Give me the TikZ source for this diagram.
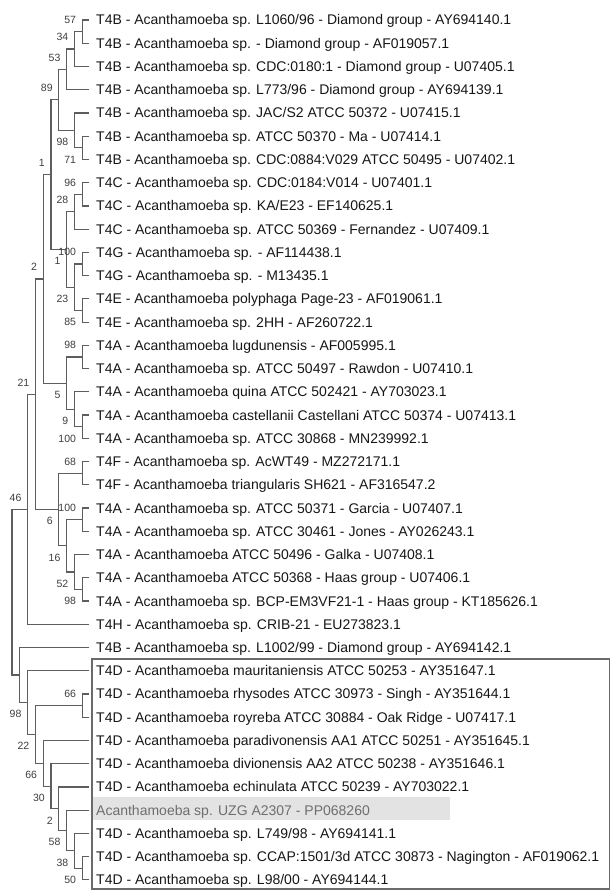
\documentclass[tikz,border=0pt]{standalone}
\usepackage{fontspec}
\setmainfont{Liberation Sans}
\usepackage{tikz}

\begin{document}
\begin{tikzpicture}[x=1pt, y=-1pt,
  ramo/.style={draw=lineGray, line width=1.2pt},
  foglia/.style={anchor=west, inner xsep=7pt, inner ysep=0pt, text height=12pt, text depth=2pt,
    font=\fontsize{14}{16}\selectfont, text=colText},
  bsup/.style={anchor=south east, inner sep=0pt, xshift=-6pt, yshift=7.8pt,
    font=\fontsize{10.5}{12}\selectfont, text=colBoot},
  bsdown/.style={anchor=north east, inner sep=0pt, xshift=-6pt, yshift=-7.8pt,
    font=\fontsize{10.5}{12}\selectfont, text=colBoot}]

% Colori
\definecolor{lineGray}{HTML}{5E5E5E}
\definecolor{colText}{HTML}{161616}
\definecolor{colBoot}{HTML}{3E3E3E}
\definecolor{colUZG}{HTML}{6E6E6E}
\definecolor{colHi}{HTML}{E3E3E3}
\definecolor{colBox}{HTML}{6A6A6A}

\useasboundingbox (0,0) rectangle (611,891);

% Evidenziazione campione
\fill[colHi] (93,797) rectangle (450,820);

% Nodi interni (x = livello, y = media dei figli)
\coordinate (n57) at (82.2,31.62);
\coordinate (n34) at (74.4,49.05);
\coordinate (n53) at (66.6,69.39);
\coordinate (n71) at (82.2,147.82);
\coordinate (n98a) at (74.4,130.39);
\coordinate (n89) at (58.8,99.89);
\coordinate (n96) at (82.2,194.30);
\coordinate (n28) at (74.4,211.73);
\coordinate (n100a) at (82.2,264.02);
\coordinate (n85) at (82.2,310.50);
\coordinate (n23) at (74.4,287.26);
\coordinate (n1b) at (66.6,249.50);
\coordinate (n1a) at (51.0,174.70);
\coordinate (n98b) at (82.2,356.98);
\coordinate (n100b) at (82.2,426.70);
\coordinate (n9) at (74.4,409.27);
\coordinate (n5) at (66.6,383.13);
\coordinate (n2a) at (43.2,278.92);
\coordinate (n68) at (82.2,473.18);
\coordinate (n100c) at (82.2,519.66);
\coordinate (n98c) at (82.2,589.38);
\coordinate (n52) at (74.4,571.95);
\coordinate (n16) at (66.6,545.81);
\coordinate (n6) at (58.8,509.50);
\coordinate (n21) at (35.4,394.21);
\coordinate (n46) at (27.6,509.23);
\coordinate (n66a) at (82.2,705.58);
\coordinate (n50) at (82.2,868.26);
\coordinate (n38) at (74.4,850.83);
\coordinate (n58) at (66.6,830.50);
\coordinate (n2b) at (58.8,808.71);
\coordinate (n30) at (51.0,786.20);
\coordinate (n66b) at (43.2,763.32);
\coordinate (n22) at (35.4,734.45);
\coordinate (n98d) at (27.6,702.59);
\coordinate (nX) at (19.8,675.04);
\coordinate (root) at (12.0,592.14);

% Foglie
\node[foglia] (f1) at (89,20.00) {T4B - Acanthamoeba sp. L1060/96 - Diamond group - AY694140.1};
\node[foglia] (f2) at (89,43.24) {T4B - Acanthamoeba sp. - Diamond group - AF019057.1};
\node[foglia] (f3) at (89,66.48) {T4B - Acanthamoeba sp. CDC:0180:1 - Diamond group - U07405.1};
\node[foglia] (f4) at (89,89.72) {T4B - Acanthamoeba sp. L773/96 - Diamond group - AY694139.1};
\node[foglia] (f5) at (89,112.96) {T4B - Acanthamoeba sp. JAC/S2 ATCC 50372 - U07415.1};
\node[foglia] (f6) at (89,136.20) {T4B - Acanthamoeba sp. ATCC 50370 - Ma - U07414.1};
\node[foglia] (f7) at (89,159.44) {T4B - Acanthamoeba sp. CDC:0884:V029 ATCC 50495 - U07402.1};
\node[foglia] (f8) at (89,182.68) {T4C - Acanthamoeba sp. CDC:0184:V014 - U07401.1};
\node[foglia] (f9) at (89,205.92) {T4C - Acanthamoeba sp. KA/E23 - EF140625.1};
\node[foglia] (f10) at (89,229.16) {T4C - Acanthamoeba sp. ATCC 50369 - Fernandez - U07409.1};
\node[foglia] (f11) at (89,252.40) {T4G - Acanthamoeba sp. - AF114438.1};
\node[foglia] (f12) at (89,275.64) {T4G - Acanthamoeba sp. - M13435.1};
\node[foglia] (f13) at (89,298.88) {T4E - Acanthamoeba polyphaga Page-23 - AF019061.1};
\node[foglia] (f14) at (89,322.12) {T4E - Acanthamoeba sp. 2HH - AF260722.1};
\node[foglia] (f15) at (89,345.36) {T4A - Acanthamoeba lugdunensis - AF005995.1};
\node[foglia] (f16) at (89,368.60) {T4A - Acanthamoeba sp. ATCC 50497 - Rawdon - U07410.1};
\node[foglia] (f17) at (89,391.84) {T4A - Acanthamoeba quina ATCC 502421 - AY703023.1};
\node[foglia] (f18) at (89,415.08) {T4A - Acanthamoeba castellanii Castellani ATCC 50374 - U07413.1};
\node[foglia] (f19) at (89,438.32) {T4A - Acanthamoeba sp. ATCC 30868 - MN239992.1};
\node[foglia] (f20) at (89,461.56) {T4F - Acanthamoeba sp. AcWT49 - MZ272171.1};
\node[foglia] (f21) at (89,484.80) {T4F - Acanthamoeba triangularis SH621 - AF316547.2};
\node[foglia] (f22) at (89,508.04) {T4A - Acanthamoeba sp. ATCC 50371 - Garcia - U07407.1};
\node[foglia] (f23) at (89,531.28) {T4A - Acanthamoeba sp. ATCC 30461 - Jones - AY026243.1};
\node[foglia] (f24) at (89,554.52) {T4A - Acanthamoeba ATCC 50496 - Galka - U07408.1};
\node[foglia] (f25) at (89,577.76) {T4A - Acanthamoeba ATCC 50368 - Haas group - U07406.1};
\node[foglia] (f26) at (89,601.00) {T4A - Acanthamoeba sp. BCP-EM3VF21-1 - Haas group - KT185626.1};
\node[foglia] (f27) at (89,624.24) {T4H - Acanthamoeba sp. CRIB-21 - EU273823.1};
\node[foglia] (f28) at (89,647.48) {T4B - Acanthamoeba sp. L1002/99 - Diamond group - AY694142.1};
\node[foglia] (f29) at (89,670.72) {T4D - Acanthamoeba mauritaniensis ATCC 50253 - AY351647.1};
\node[foglia] (f30) at (89,693.96) {T4D - Acanthamoeba rhysodes ATCC 30973 - Singh - AY351644.1};
\node[foglia] (f31) at (89,717.20) {T4D - Acanthamoeba royreba ATCC 30884 - Oak Ridge - U07417.1};
\node[foglia] (f32) at (89,740.44) {T4D - Acanthamoeba paradivonensis AA1 ATCC 50251 - AY351645.1};
\node[foglia] (f33) at (89,763.68) {T4D - Acanthamoeba divionensis AA2 ATCC 50238 - AY351646.1};
\node[foglia] (f34) at (89,786.92) {T4D - Acanthamoeba echinulata ATCC 50239 - AY703022.1};
\node[foglia, text=colUZG] (f35) at (89,810.16) {Acanthamoeba sp. UZG A2307 - PP068260};
\node[foglia] (f36) at (89,833.40) {T4D - Acanthamoeba sp. L749/98 - AY694141.1};
\node[foglia] (f37) at (89,856.64) {T4D - Acanthamoeba sp. CCAP:1501/3d ATCC 30873 - Nagington - AF019062.1};
\node[foglia] (f38) at (89,879.88) {T4D - Acanthamoeba sp. L98/00 - AY694144.1};

% Rami
\draw[ramo] (n57) |- (f1) (n57) |- (f2);
\draw[ramo] (n34) |- (n57) (n34) |- (f3);
\draw[ramo] (n53) |- (n34) (n53) |- (f4);
\draw[ramo] (n71) |- (f6) (n71) |- (f7);
\draw[ramo] (n98a) |- (f5) (n98a) |- (n71);
\draw[ramo] (n89) |- (n53) (n89) |- (n98a);
\draw[ramo] (n96) |- (f8) (n96) |- (f9);
\draw[ramo] (n28) |- (n96) (n28) |- (f10);
\draw[ramo] (n100a) |- (f11) (n100a) |- (f12);
\draw[ramo] (n85) |- (f13) (n85) |- (f14);
\draw[ramo] (n23) |- (n100a) (n23) |- (n85);
\draw[ramo] (n1b) |- (n28) (n1b) |- (n23);
\draw[ramo] (n1a) |- (n89) (n1a) |- (n1b);
\draw[ramo] (n98b) |- (f15) (n98b) |- (f16);
\draw[ramo] (n100b) |- (f18) (n100b) |- (f19);
\draw[ramo] (n9) |- (f17) (n9) |- (n100b);
\draw[ramo] (n5) |- (n98b) (n5) |- (n9);
\draw[ramo] (n2a) |- (n1a) (n2a) |- (n5);
\draw[ramo] (n68) |- (f20) (n68) |- (f21);
\draw[ramo] (n100c) |- (f22) (n100c) |- (f23);
\draw[ramo] (n98c) |- (f25) (n98c) |- (f26);
\draw[ramo] (n52) |- (f24) (n52) |- (n98c);
\draw[ramo] (n16) |- (n100c) (n16) |- (n52);
\draw[ramo] (n6) |- (n68) (n6) |- (n16);
\draw[ramo] (n21) |- (n2a) (n21) |- (n6);
\draw[ramo] (n46) |- (n21) (n46) |- (f27);
\draw[ramo] (n66a) |- (f30) (n66a) |- (f31);
\draw[ramo] (n50) |- (f37) (n50) |- (f38);
\draw[ramo] (n38) |- (f36) (n38) |- (n50);
\draw[ramo] (n58) |- (f35) (n58) |- (n38);
\draw[ramo] (n2b) |- (f34) (n2b) |- (n58);
\draw[ramo] (n30) |- (f33) (n30) |- (n2b);
\draw[ramo] (n66b) |- (f32) (n66b) |- (n30);
\draw[ramo] (n22) |- (n66a) (n22) |- (n66b);
\draw[ramo] (n98d) |- (f29) (n98d) |- (n22);
\draw[ramo] (nX) |- (f28) (nX) |- (n98d);
\draw[ramo] (root) |- (n46) (root) |- (nX);

% Valori di bootstrap
\node[bsup] (b57) at (n57) {57};
\node[bsup] (b34) at (n34) {34};
\node[bsup] (b53) at (n53) {53};
\node[bsup] (b89) at (n89) {89};
\node[bsdown] (b98a) at (n98a) {98};
\node[bsdown] (b71) at (n71) {71};
\node[bsup] (b1a) at (n1a) {1};
\node[bsup] (b96) at (n96) {96};
\node[bsup] (b28) at (n28) {28};
\node[bsup] (b100a) at (n100a) {100};
\node[bsdown] (b1b) at (n1b) {1};
\node[bsup] (b2a) at (n2a) {2};
\node[bsdown] (b23) at (n23) {23};
\node[bsdown] (b85) at (n85) {85};
\node[bsup] (b98b) at (n98b) {98};
\node[bsup] (b21) at (n21) {21};
\node[bsdown] (b5) at (n5) {5};
\node[bsdown] (b9) at (n9) {9};
\node[bsdown] (b100b) at (n100b) {100};
\node[bsup] (b68) at (n68) {68};
\node[bsup] (b46) at (n46) {46};
\node[bsup] (b100c) at (n100c) {100};
\node[bsdown] (b6) at (n6) {6};
\node[bsdown] (b16) at (n16) {16};
\node[bsdown] (b52) at (n52) {52};
\node[bsdown] (b98c) at (n98c) {98};
\node[bsup] (b66a) at (n66a) {66};
\node[bsdown] (b98d) at (n98d) {98};
\node[bsdown] (b22) at (n22) {22};
\node[bsdown] (b66b) at (n66b) {66};
\node[bsdown] (b30) at (n30) {30};
\node[bsdown] (b2b) at (n2b) {2};
\node[bsdown] (b58) at (n58) {58};
\node[bsdown] (b38) at (n38) {38};
\node[bsdown] (b50) at (n50) {50};

% Riquadro T4D
\draw[colBox, line width=1.8pt] (92,659) rectangle (609.5,889);

\end{tikzpicture}
\end{document}
